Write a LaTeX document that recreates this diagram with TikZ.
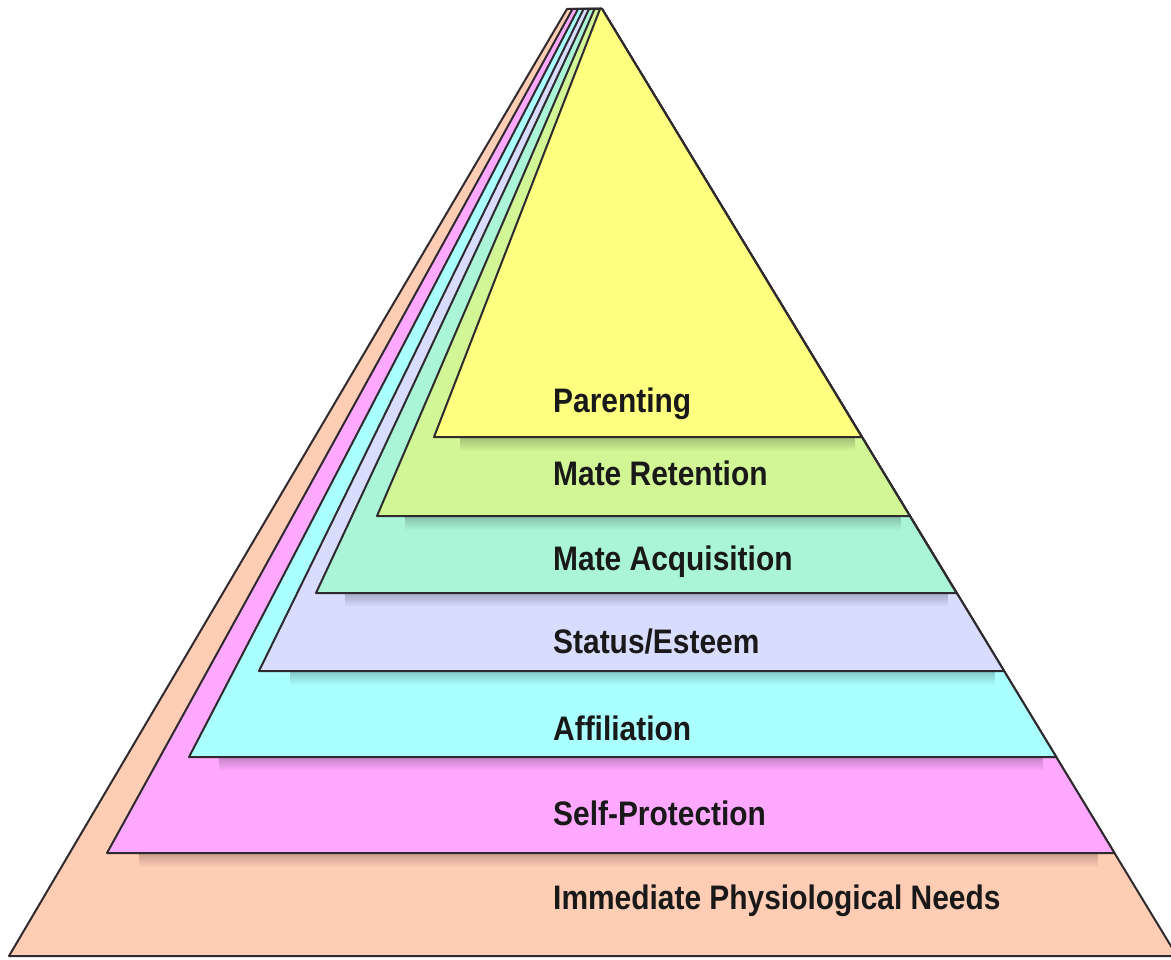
\documentclass[tikz,border=0pt]{standalone}
\usepackage{fontspec}
\newfontfamily\labfont[FakeStretch=0.88]{Liberation Sans}
\usetikzlibrary{fadings}
\definecolor{cPhys}{HTML}{FFCCB4}
\definecolor{cSelf}{HTML}{FFA8FF}
\definecolor{cAff}{HTML}{AAFFFF}
\definecolor{cStat}{HTML}{D8DCFF}
\definecolor{cAcq}{HTML}{AAF5D7}
\definecolor{cRet}{HTML}{D2F596}
\definecolor{cPar}{HTML}{FFFF80}
\definecolor{edge}{HTML}{2E2A2E}
\tikzset{
  layer/.style={draw=edge, line width=2pt, line join=round},
  shade/.style={fill=black, fill opacity=0.22, path fading=south},
  lab/.style={anchor=base west, inner sep=0pt, text=black!90,
    font=\labfont\bfseries\fontsize{34}{40}\selectfont}
}
\begin{document}
\begin{tikzpicture}[x=1pt,y=-1pt]
\useasboundingbox (0,0) rectangle (1171,960);
\clip (0,0) rectangle (1171,960);
\path[layer, fill=cPhys] (567,9) -- (602,9) -- (1177,956) -- (9,956) -- cycle;
\fill[shade] (140,853) rectangle (1100,867);
\path[layer, fill=cSelf] (572.5,9) -- (602,9) -- (1114.5,853) -- (107,853) -- cycle;
\fill[shade] (220,757) rectangle (1045,771);
\path[layer, fill=cAff] (578,9) -- (602,9) -- (1056.3,757) -- (189,757) -- cycle;
\fill[shade] (290,671) rectangle (995,685);
\path[layer, fill=cStat] (583.5,9) -- (602,9) -- (1004.1,671) -- (259,671) -- cycle;
\fill[shade] (345,593) rectangle (948,607);
\path[layer, fill=cAcq] (589,9) -- (602,9) -- (956.5,593) -- (316,593) -- cycle;
\fill[shade] (405,516) rectangle (902,530);
\path[layer, fill=cRet] (594.5,9) -- (602,9) -- (909.8,516) -- (377,516) -- cycle;
\fill[shade] (460,437) rectangle (855,451);
\path[layer, fill=cPar] (600,9) -- (602,9) -- (861.8,437) -- (434,437) -- cycle;
\node[lab] (par) at (553,412) {Parenting};
\node[lab] (ret) at (553,485) {Mate Retention};
\node[lab] (acq) at (553,570) {Mate Acquisition};
\node[lab] (sta) at (553,653) {Status/Esteem};
\node[lab] (aff) at (553,740) {Affiliation};
\node[lab] (sel) at (553,825) {Self-Protection};
\node[lab] (imm) at (553,909) {Immediate Physiological Needs};
\end{tikzpicture}
\end{document}
